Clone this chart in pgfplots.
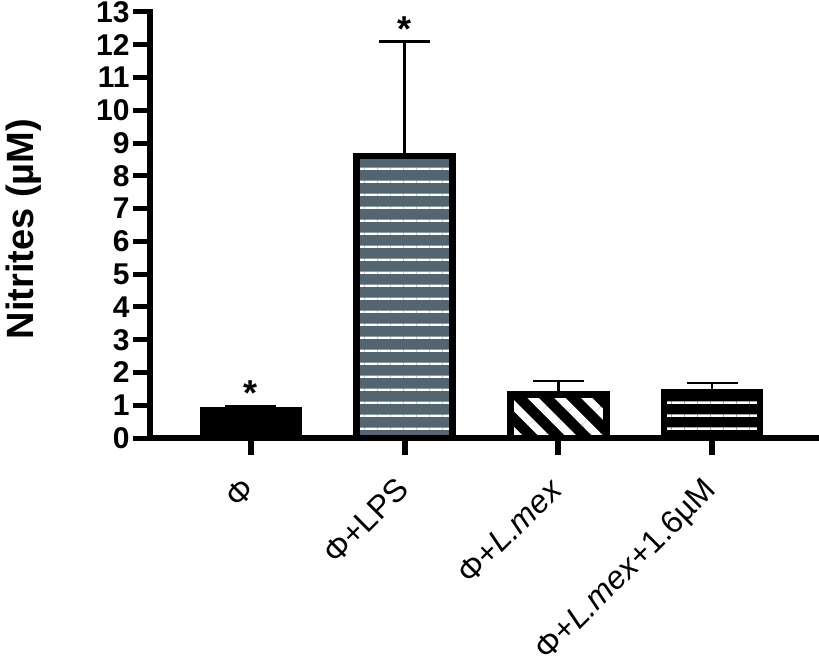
\documentclass[border=0pt]{standalone}
\usepackage{fontspec}
\setmainfont{Liberation Sans}
\usepackage{pgfplots}
\pgfplotsset{compat=1.18}
\usetikzlibrary{patterns.meta}
\definecolor{slate}{RGB}{83,101,112}
\begin{document}
\begin{tikzpicture}
\path[use as bounding box] (0,0) rectangle (409.5pt,335.5pt);
\begin{axis}[
  at={(75pt,116.5pt)}, anchor=south west,
  scale only axis, width=333.5pt, height=213pt,
  xmin=-0.657, xmax=3.683, ymin=0, ymax=13,
  axis x line*=bottom, axis y line*=left,
  axis line style={line width=3pt, line cap=rect, black},
  ytick={0,1,...,13},
  xtick={0,1,2,3},
  xticklabels={Φ, Φ+LPS, Φ+\textit{L.mex}, Φ+\textit{L.mex}+1.6µM},
  tick align=outside,
  major tick length=8.5pt,
  ytick style={line width=2.5pt, black},
  xtick style={line width=3pt, black},
  /pgf/number format/assume math mode=true,
  yticklabel style={font=\bfseries\fontsize{15}{15}\selectfont, inner sep=1.5pt},
  xticklabel style={font=\fontsize{16}{16}\selectfont, xshift=-5pt, yshift=-5.5pt, rotate=45, anchor=north east},
  ylabel={Nitrites (µM)},
  ylabel style={font=\bfseries\fontsize{19}{19}\selectfont, at={(axis description cs:-0.19,0.49)}, anchor=center},
]
% fills
\addplot[ybar, bar width=0.625, bar shift=0pt, fill=black, draw=black, line width=3.3pt]
  coordinates {(0,0.85)};
\addplot[ybar, bar width=0.625, bar shift=0pt, fill=slate, draw=none, forget plot]
  coordinates {(1,8.6)};
\addplot[ybar, bar width=0.625, bar shift=0pt, fill=black, draw=none, forget plot]
  coordinates {(2,1.32)};
\addplot[ybar, bar width=0.625, bar shift=0pt, fill=black, draw=none, forget plot]
  coordinates {(3,1.40)};
% patterns
\addplot[ybar, bar width=0.625, bar shift=0pt, draw=none, forget plot,
  pattern={Lines[angle=0,distance=6.4pt,line width=1.2pt]}, pattern color=white]
  coordinates {(1,8.6)};
\addplot[ybar, bar width=0.625, bar shift=0pt, draw=none, forget plot,
  pattern={Lines[angle=-45,distance=9.5pt,line width=4pt]}, pattern color=white]
  coordinates {(2,1.32)};
\addplot[ybar, bar width=0.625, bar shift=0pt, draw=none, forget plot,
  pattern={Lines[angle=0,distance=6.4pt,line width=1.2pt]}, pattern color=white]
  coordinates {(3,1.40)};
% outlines
\addplot[ybar, bar width=0.625, bar shift=0pt, fill=none, draw=black, line width=3.3pt, forget plot]
  coordinates {(1,8.6)};
\addplot[ybar, bar width=0.625, bar shift=0pt, fill=none, draw=black, line width=3.3pt, forget plot]
  coordinates {(2,1.32)};
\addplot[ybar, bar width=0.625, bar shift=0pt, fill=none, draw=black, line width=3.3pt, forget plot]
  coordinates {(3,1.40)};
% error bars
\addplot[draw=none, mark=none, forget plot,
  error bars/.cd, y dir=plus, y explicit, error mark=|,
  error bar style={draw=black, line width=1.2pt},
  error mark options={draw=black, line width=1.2pt, mark size=12.75pt}]
  coordinates {(0,0.85) +- (0,0.13) (1,8.6) +- (0,3.5) (2,1.32) +- (0,0.42) (3,1.40) +- (0,0.27)};
% significance stars
\addplot[draw=none, mark=none, forget plot, nodes near coords={\bfseries\fontsize{18}{18}\selectfont *},
  every node near coord/.append style={inner sep=0pt, anchor=south}]
  coordinates {(0,0.98) (1,12.1)};
\end{axis}
\end{tikzpicture}
\end{document}
